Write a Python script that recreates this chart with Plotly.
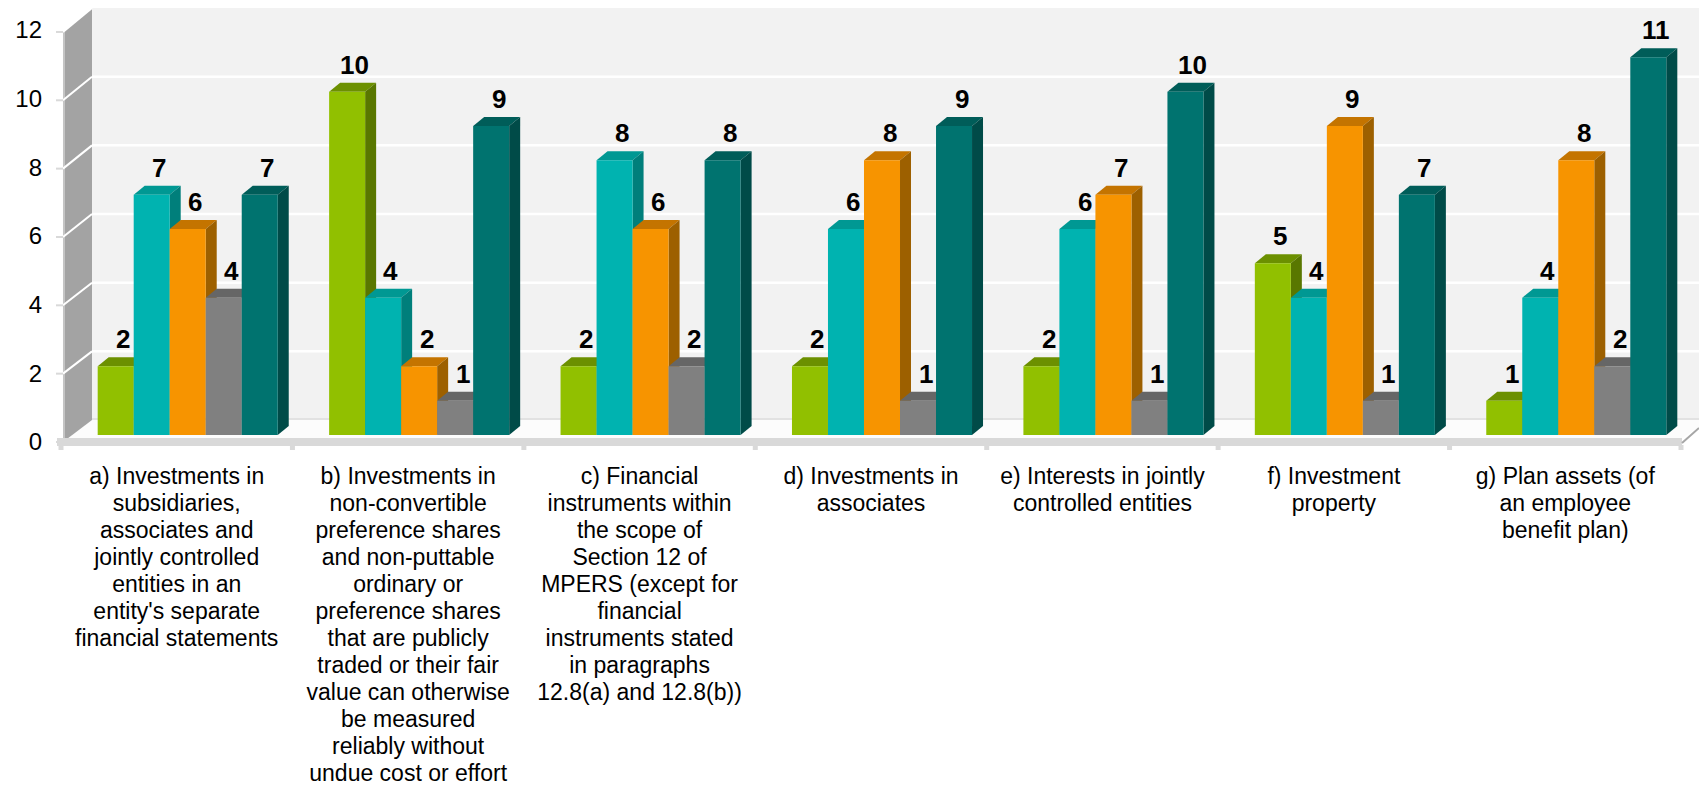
import plotly.graph_objects as go

# ---- data -------------------------------------------------------------
categories = [
    "a) Investments in<br>subsidiaries,<br>associates and<br>jointly controlled<br>entities in an<br>entity's separate<br>financial statements",
    "b) Investments in<br>non-convertible<br>preference shares<br>and non-puttable<br>ordinary or<br>preference shares<br>that are publicly<br>traded or their fair<br>value can otherwise<br>be measured<br>reliably without<br>undue cost or effort",
    "c) Financial<br>instruments within<br>the scope of<br>Section 12 of<br>MPERS (except for<br>financial<br>instruments stated<br>in paragraphs<br>12.8(a) and 12.8(b))",
    "d) Investments in<br>associates",
    "e) Interests in jointly<br>controlled entities",
    "f) Investment<br>property",
    "g) Plan assets (of<br>an employee<br>benefit plan)",
]
series_names = ["Series 1", "Series 2", "Series 3", "Series 4", "Series 5"]
series_1 = [2, 10, 2, 2, 2, 5, 1]
series_2 = [7, 4, 8, 6, 6, 4, 4]
series_3 = [6, 2, 6, 8, 7, 9, 8]
series_4 = [4, 1, 2, 1, 1, 1, 2]
series_5 = [7, 9, 8, 9, 10, 7, 11]
y_ticks = [0, 2, 4, 6, 8, 10, 12]

all_series = [series_1, series_2, series_3, series_4, series_5]

# ---- styling ----------------------------------------------------------
front_colors = ["#91C000", "#00B3B0", "#F79400", "#808080", "#00736F"]
top_colors = ["#6C9000", "#009893", "#C47400", "#666666", "#005D59"]
side_colors = ["#597700", "#007F7B", "#9D6000", "#555555", "#004B48"]

FONT = "Arial, 'Liberation Sans', sans-serif"
W, H = 1699, 785
PL, PR = 72, 1692          # plot area (bar plane), px
PT, PB = 23, 435
Y_MAX = 12
n_cat = len(categories)
px_cat = (PR - PL) / n_cat
px_unit = (PB - PT) / Y_MAX

group_w = 0.778
bar_w = group_w / len(all_series)
DX = 11 / px_cat           # bar depth, in axis units
DY = 9 / px_unit


def xp(px):
    return (px - PL) / (PR - PL)


def yp(py):
    return (PB - py) / (PB - PT)


def paper_path(points):
    return "M " + " L ".join(f"{xp(x):.5f},{yp(y):.5f}" for x, y in points) + " Z"


def data_path(points):
    return "M " + " L ".join(f"{x:.5f},{y:.5f}" for x, y in points) + " Z"


shapes = []

# front / back planes of the box (px)
FX, FY0, FS = 63, 442, 34.17     # front plane
BX, BY0, BS = 92, 420, 34.33     # back wall plane
FLOOR_R = 1682

# back wall
shapes.append(dict(type="path", xref="paper", yref="paper", layer="below",
                   path=paper_path([(BX, BY0), (BX, BY0 - Y_MAX * BS), (W + 20, BY0 - Y_MAX * BS), (W + 20, BY0)]),
                   fillcolor="#F2F2F2", line=dict(width=0)))
# floor top
shapes.append(dict(type="path", xref="paper", yref="paper", layer="below",
                   path=paper_path([(FX, 438), (FLOOR_R, 438), (FLOOR_R + 27, BY0), (BX, BY0)]),
                   fillcolor="#FCFCFC", line=dict(width=0)))
shapes.append(dict(type="line", xref="paper", yref="paper", layer="below",
                   x0=xp(BX), y0=yp(BY0 - 1), x1=xp(W + 20), y1=yp(BY0 - 1),
                   line=dict(color="#DDDDDD", width=1.5)))
# left side wall
shapes.append(dict(type="path", xref="paper", yref="paper", layer="below",
                   path=paper_path([(FX, FY0), (FX, FY0 - Y_MAX * FS), (BX, BY0 - Y_MAX * BS), (BX, BY0)]),
                   fillcolor="#A3A3A3", line=dict(width=0)))
shapes.append(dict(type="line", xref="paper", yref="paper", layer="below",
                   x0=xp(FX + 1), y0=yp(FY0), x1=xp(FX + 1), y1=yp(FY0 - Y_MAX * FS),
                   line=dict(color="#C4C4C4", width=2)))
# grid lines on back wall and side wall, plus y tick stubs
for v in y_ticks:
    by = BY0 - v * BS
    fy = FY0 - v * FS
    if 0 < v < Y_MAX:
        shapes.append(dict(type="line", xref="paper", yref="paper", layer="below",
                           x0=xp(BX), y0=yp(by), x1=xp(W + 20), y1=yp(by),
                           line=dict(color="#FFFFFF", width=2.5)))
    if v > 0:
        shapes.append(dict(type="line", xref="paper", yref="paper", layer="below",
                           x0=xp(FX), y0=yp(fy), x1=xp(BX), y1=yp(by),
                           line=dict(color="#FFFFFF", width=2)))
    shapes.append(dict(type="line", xref="paper", yref="paper", layer="below",
                       x0=xp(56), y0=yp(fy), x1=xp(FX), y1=yp(fy),
                       line=dict(color="#D9D9D9", width=2)))
# floor front edge
shapes.append(dict(type="rect", xref="paper", yref="paper", layer="below",
                   x0=xp(57), y0=yp(446), x1=xp(FLOOR_R), y1=yp(438),
                   fillcolor="#D9D9D9", line=dict(width=0)))
shapes.append(dict(type="line", xref="paper", yref="paper", layer="below",
                   x0=xp(FLOOR_R), y0=yp(443), x1=xp(W), y1=yp(428),
                   line=dict(color="#A6A6A6", width=2)))
for k in range(n_cat + 1):
    cx = FX - 2 + k * px_cat
    shapes.append(dict(type="line", xref="paper", yref="paper", layer="below",
                       x0=xp(cx), y0=yp(445), x1=xp(cx), y1=yp(450),
                       line=dict(color="#D9D9D9", width=5)))

# 3-D faces of every bar (top and right side), computed from the values
for j in range(n_cat):
    for i, vals in enumerate(all_series):
        v = vals[j]
        xl = j - group_w / 2 + i * bar_w
        xr = xl + bar_w
        shapes.append(dict(type="path", xref="x", yref="y", layer="below",
                           path=data_path([(xl, v), (xr, v), (xr + DX, v + DY), (xl + DX, v + DY)]),
                           fillcolor=top_colors[i], line=dict(width=0)))
        shapes.append(dict(type="path", xref="x", yref="y", layer="below",
                           path=data_path([(xr, 0), (xr, v), (xr + DX, v + DY), (xr + DX, DY)]),
                           fillcolor=side_colors[i], line=dict(width=0)))

fig = go.Figure()
annotations = []
for i, (name, vals) in enumerate(zip(series_names, all_series)):
    offset = -group_w / 2 + i * bar_w
    fig.add_trace(go.Bar(
        x=list(range(n_cat)), y=vals, name=name,
        width=bar_w, offset=offset,
        marker=dict(color=front_colors[i], line=dict(width=0)),
        hoverinfo="y+name",
    ))
    for j, v in enumerate(vals):
        annotations.append(dict(
            x=j + offset + bar_w / 2 + DX / 2, y=v, xref="x", yref="y",
            text=f"<b>{v}</b>", showarrow=False, yanchor="middle",
            xshift=2, yshift=27,
            font=dict(family=FONT, size=26, color="#000000"),
        ))

tick_text = ["<br>".join(f'<span style="font-size:23px">{line}</span>' for line in c.split("<br>"))
             for c in categories]

fig.update_layout(
    width=W, height=H,
    margin=dict(l=PL, r=W - PR, t=PT, b=H - PB, pad=0, autoexpand=False),
    paper_bgcolor="#FFFFFF", plot_bgcolor="rgba(0,0,0,0)",
    barmode="overlay", showlegend=False,
    shapes=shapes, annotations=annotations,
    font=dict(family=FONT, color="#000000"),
    xaxis=dict(range=[-0.5, n_cat - 0.5], tickvals=list(range(n_cat)), ticktext=tick_text,
               tickangle=0, showgrid=False, zeroline=False, showline=False, ticks="",
               ticklabelshift=-11, ticklabelstandoff=27, automargin=False,
               tickfont=dict(family=FONT, size=20.8, color="#000000"), fixedrange=True),
    yaxis=dict(range=[0, Y_MAX], tickvals=y_ticks, showgrid=False, zeroline=False,
               showline=False, ticks="", ticklabelstandoff=29, ticklabelshift=7, automargin=False,
               tickfont=dict(family=FONT, size=24, color="#000000"), fixedrange=True),
)

fig.write_html("out.html")
